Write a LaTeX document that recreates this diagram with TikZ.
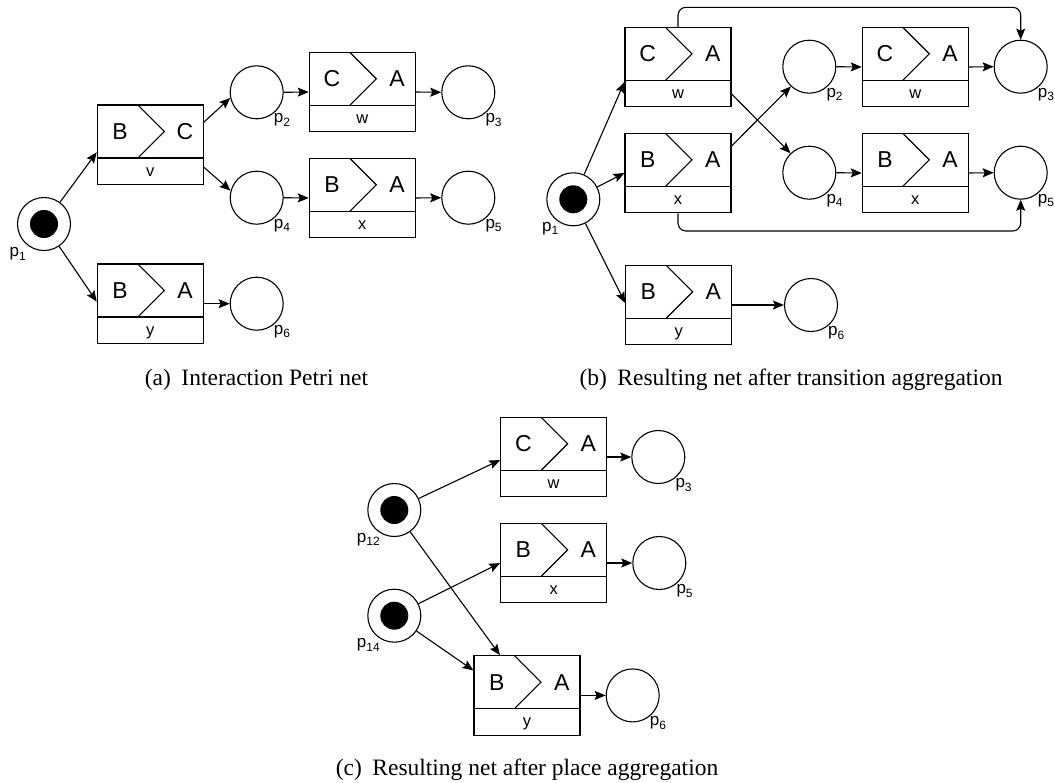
\documentclass[tikz,border=0pt]{standalone}
\usepackage{fontspec}
\setmainfont{Liberation Serif}
\newfontfamily\hv{Liberation Sans}
\usetikzlibrary{arrows.meta}
\tikzset{
 tbox/.style={draw, line width=1.1pt, minimum width=106pt, minimum height=79.4pt, inner sep=0pt},
 place/.style={draw, circle, line width=1.1pt, minimum size=53pt, inner sep=0pt},
 marked/.style={place, path picture={\fill (path picture bounding box.center) circle (14pt);}},
 bigtxt/.style={font=\hv\fontsize{23}{23}\selectfont, inner sep=0pt, anchor=base},
 smalltxt/.style={font=\hv\fontsize{16.5}{16.5}\selectfont, inner sep=0pt, anchor=base},
 plab/.style={font=\hv\fontsize{17}{17}\selectfont, inner sep=0pt, anchor=base west},
 arr/.style={line width=1.1pt, -{Stealth[length=11pt,width=9pt,inset=2pt]}},
 captext/.style={font=\fontsize{23.5}{25}\selectfont, inner sep=0pt},
 innerline/.style={line width=1.1pt},
}
\newcommand{\psub}[1]{p\raisebox{-3.5pt}{\fontsize{12}{12}\selectfont #1}}
\newcommand{\trans}[6]{%
 \node[tbox] (#1) at ({#2+53},{#3+39.7}) {};
 \draw[innerline] ({#2},{#3+53}) -- ({#2+106},{#3+53});
 \draw[innerline] ({#2+40.5},{#3}) -- ({#2+67},{#3+26.5}) -- ({#2+40.5},{#3+53});
 \node[bigtxt] (#1-l) at ({#2+22.7},{#3+34.5}) {#4};
 \node[bigtxt] (#1-r) at ({#2+87.7},{#3+34.5}) {#5};
 \node[smalltxt] (#1-n) at ({#2+53},{#3+71}) {#6};
}
\newcommand{\plr}[4]{% name, cx, cy, subscript (label right)
 \node[plab] (#1-lab) at ({#2+17},{#3+30.5}) {\psub{#4}};
}
\newcommand{\pll}[4]{% label left
 \node[plab] (#1-lab) at ({#2-34.5},{#3+32.5}) {\psub{#4}};
}
\begin{document}
\begin{tikzpicture}[x=1pt,y=-1pt]
\useasboundingbox (0,0) rectangle (1055,782);
% ---------------- (a)
\node[marked] (a1) at (44,224) {};
\pll{a1}{44}{224}{1}
\trans{av}{97.3}{105}{B}{C}{v}
\trans{ay}{97.3}{264}{B}{A}{y}
\node[place] (a2) at (256.7,92.3) {}; \plr{a2}{256.7}{92.3}{2}
\node[place] (a4) at (256.7,197.7) {}; \plr{a4}{256.7}{197.7}{4}
\trans{aw}{309.3}{52.3}{C}{A}{w}
\trans{ax}{309.3}{158.3}{B}{A}{x}
\node[place] (a3) at (468.3,92.3) {}; \plr{a3}{468.3}{92.3}{3}
\node[place] (a5) at (468.3,197.7) {}; \plr{a5}{468.3}{197.7}{5}
\node[place] (a6) at (256.7,303.7) {}; \plr{a6}{256.7}{303.7}{6}
\draw[arr] (a1) -- ([yshift=-7.5pt]av.west);
\draw[arr] (a1) -- ([yshift=2pt]ay.west);
\draw[arr] ([yshift=22.5pt]av.east) -- (a2.192);
\draw[arr] ([yshift=-22.5pt]av.east) -- (a4.165);
\draw[arr] (a2.east) -- (aw.west);
\draw[arr] (aw.east) -- (a3.west);
\draw[arr] (a4.east) -- (ax.west);
\draw[arr] (ax.east) -- (a5.west);
\draw[arr] (ay.east) -- (a6.west);
\node[captext] (capa) at (256.5,380) {(a)\hspace{0.45em}Interaction Petri net};
% ---------------- (b)
\node[marked] (b1) at (573.3,199.3) {};
\node[plab] (b1-lab) at (542,231) {\psub{1}};
\trans{bw1}{625}{27.3}{C}{A}{w}
\trans{bx1}{625}{133.3}{B}{A}{x}
\trans{by}{625.7}{265.3}{B}{A}{y}
\node[place] (b2) at (809.3,66.7) {}; \plr{b2}{809.3}{66.7}{2}
\node[place] (b4) at (809.3,172.7) {}; \plr{b4}{809.3}{172.7}{4}
\trans{bw2}{862.3}{27.3}{C}{A}{w}
\trans{bx2}{862.3}{133.3}{B}{A}{x}
\node[place] (b3) at (1020.7,66.7) {}; \plr{b3}{1020.7}{66.7}{3}
\node[place] (b5) at (1020.7,172.7) {}; \plr{b5}{1020.7}{172.7}{5}
\node[place] (b6) at (811,305) {}; \plr{b6}{811}{305}{6}
\coordinate (topline) at (0,7.3);
\coordinate (botline) at (0,231);
\draw[arr] (b1) -- ([yshift=-15pt]bw1.west);
\draw[arr] (b1) -- (bx1.west);
\draw[arr] (b1) -- ([yshift=2pt]by.west);
\draw[arr] ([yshift=-27pt]bw1.east) -- (b4.134);
\draw[arr] ([yshift=27pt]bx1.east) -- (b2.227);
\draw[arr] (b2.east) -- (bw2.west);
\draw[arr] (bw2.east) -- (b3.west);
\draw[arr] (b4.east) -- (bx2.west);
\draw[arr] (bx2.east) -- (b5.west);
\draw[arr] (by.east) -- (b6.west);
\draw[arr, rounded corners=8pt] (bw1.north) |- (b3.north |- topline) -- (b3.north);
\draw[arr, rounded corners=8pt] (bx1.south) |- (b5.south |- botline) -- (b5.south);
\node[captext] (capb) at (791,380) {(b)\hspace{0.45em}Resulting net after transition aggregation};
% ---------------- (c)
\node[marked] (c12) at (394.3,510) {};
\node[plab] (c12-lab) at (356.7,542) {\psub{12}};
\node[marked] (c14) at (394.3,615.7) {};
\node[plab] (c14-lab) at (356.7,647.7) {\psub{14}};
\trans{cw}{500.7}{417.3}{C}{A}{w}
\trans{cx}{500.7}{523.3}{B}{A}{x}
\trans{cy}{474}{655.7}{B}{A}{y}
\node[place] (c3) at (658.3,457) {}; \plr{c3}{658.3}{457}{3}
\node[place] (c5) at (659.3,563) {}; \plr{c5}{659.3}{563}{5}
\node[place] (c6) at (632.7,695.4) {}; \plr{c6}{632.7}{695.4}{6}
\draw[arr] (c12) -- ([yshift=-3pt]cw.west);
\draw[arr] (c12) -- ([xshift=-27pt]cy.north);
\draw[arr] (c14) -- (cx.west);
\draw[arr] (c14) -- ([yshift=25pt]cy.west);
\draw[arr] (cw.east) -- (c3.west);
\draw[arr] (cx.east) -- (c5.west);
\draw[arr] (cy.east) -- (c6.west);
\node[captext] (capc) at (527,770) {(c)\hspace{0.45em}Resulting net after place aggregation};
\end{tikzpicture}
\end{document}
